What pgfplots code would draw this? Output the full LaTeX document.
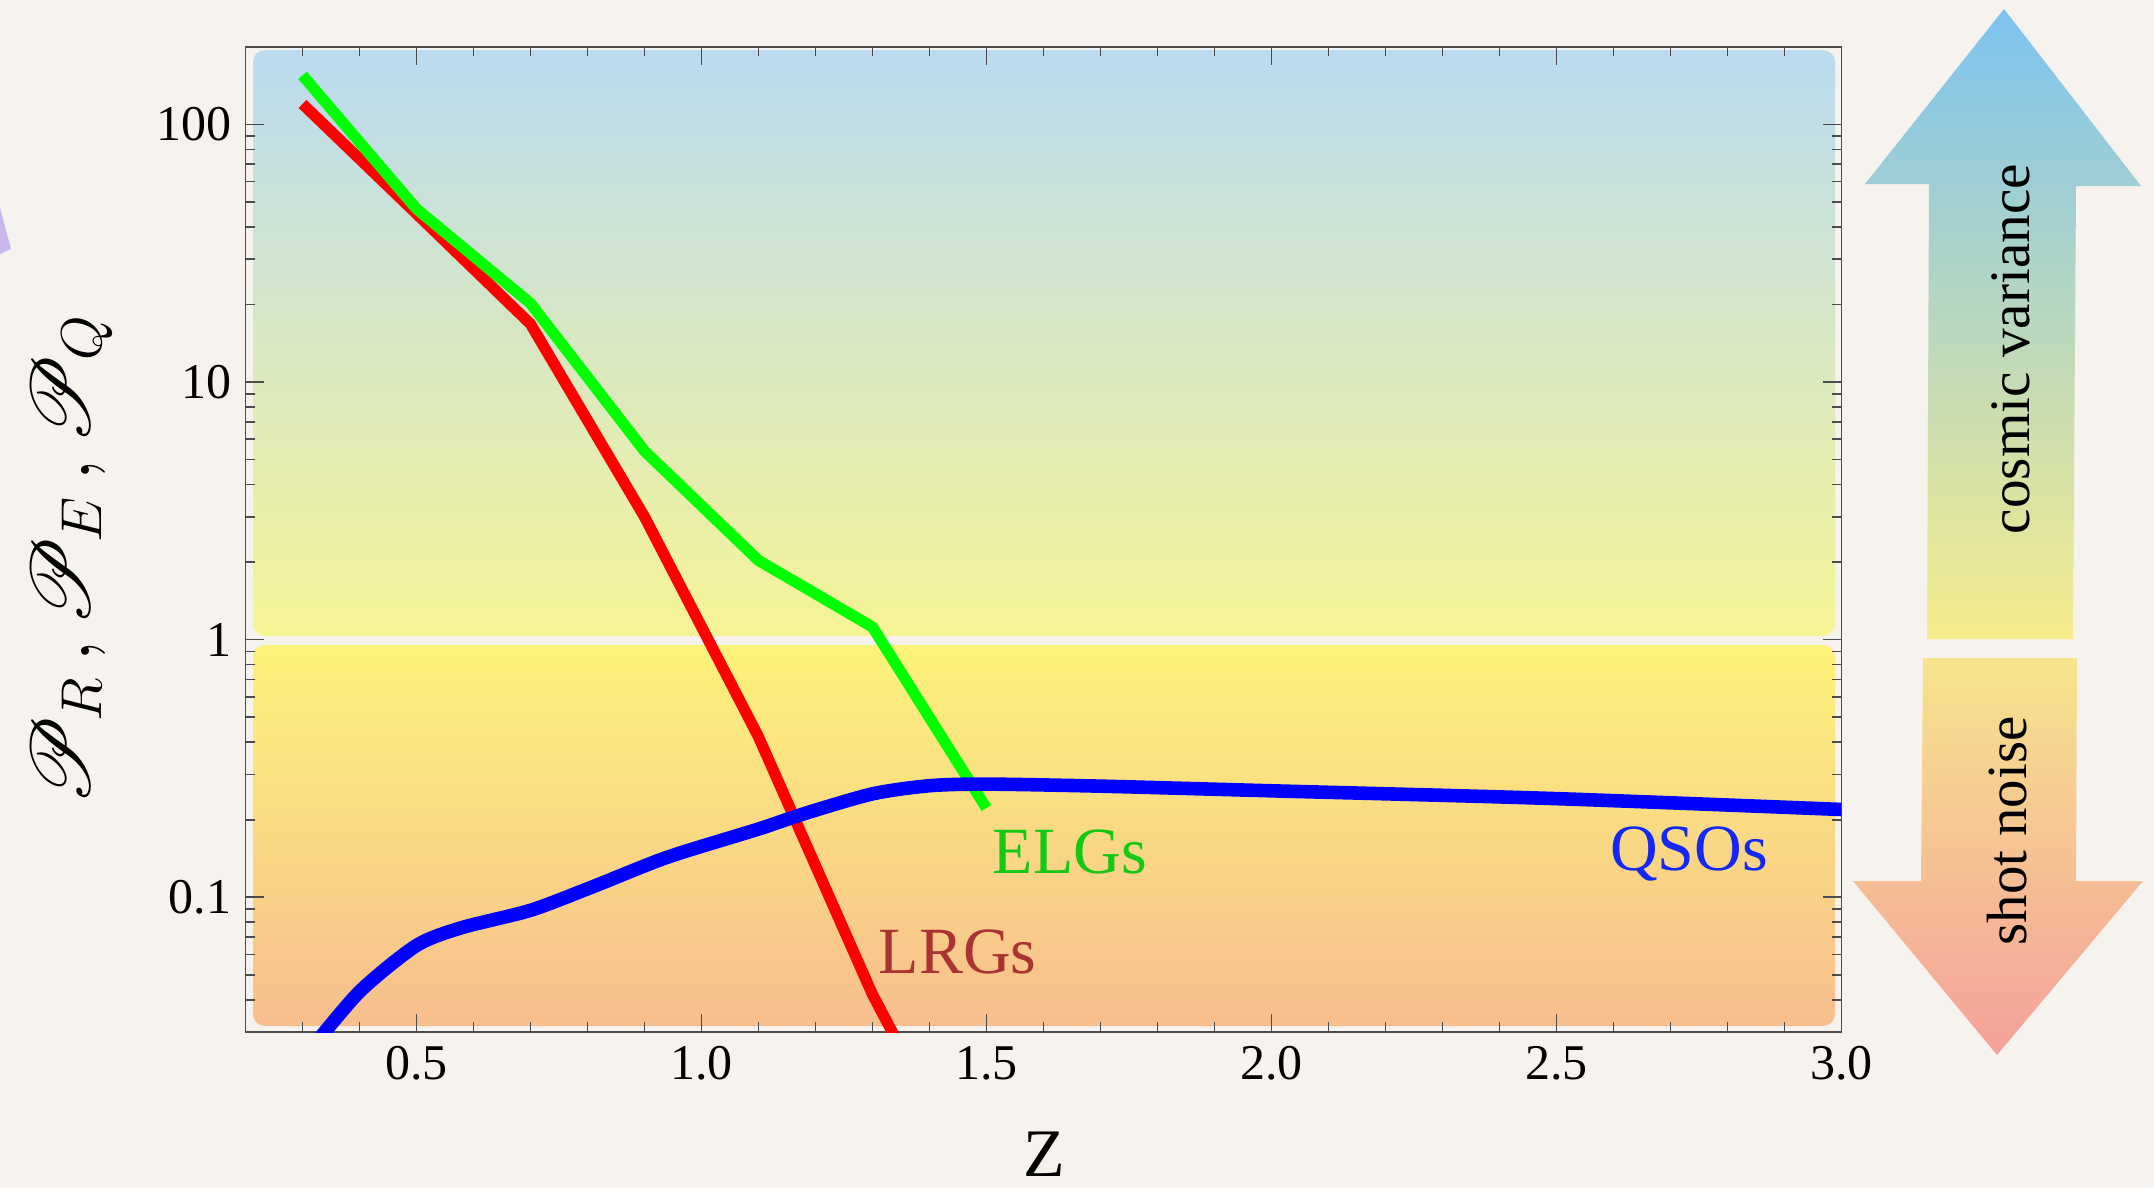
\documentclass[border=0pt]{standalone}
\usepackage{pgfplots}
\pgfplotsset{compat=1.18}
\usepackage{fontspec}
\setmainfont{Liberation Serif}
\usepackage{mathrsfs}
\definecolor{bgc}{RGB}{246,242,237}
\definecolor{upTop}{RGB}{186,219,240}
\definecolor{upMid}{RGB}{204,227,205}
\definecolor{upBot}{RGB}{246,244,150}
\definecolor{loTop}{RGB}{252,243,122}
\definecolor{loMid}{RGB}{250,214,130}
\definecolor{loBot}{RGB}{247,190,142}
\definecolor{arUpTop}{RGB}{125,195,240}
\definecolor{arUpMid}{RGB}{175,212,200}
\definecolor{arUpBot}{RGB}{246,236,140}
\definecolor{arDnTop}{RGB}{246,228,140}
\definecolor{arDnMid}{RGB}{247,196,140}
\definecolor{arDnBot}{RGB}{245,160,155}
\definecolor{elgc}{RGB}{20,200,20}
\definecolor{lrgc}{RGB}{170,50,50}
\definecolor{qsoc}{RGB}{20,40,245}
\definecolor{purp}{RGB}{200,182,236}
\begin{document}
\begin{tikzpicture}
\begin{scope}[x=0.25pt,y=-0.25pt]
  \useasboundingbox (0,0) rectangle (2154,1188);
  \fill[bgc] (0,0) rectangle (2154,1188);
  \fill[purp] (0,208) -- (11,249) -- (0,254) -- cycle;
  % background panels
  \shade[top color=upTop, middle color=upMid, bottom color=upBot, rounded corners=3pt]
     (253,50) rectangle (1835,636);
  \shade[top color=loTop, middle color=loMid, bottom color=loBot, rounded corners=3pt]
     (253,645) rectangle (1835,1026);
  % arrows
  \shade[top color=arUpTop, middle color=arUpMid, bottom color=arUpBot]
     (2004,9) -- (2141,186) -- (2076,186) -- (2073,639) -- (1927,639) -- (1929,184) -- (1865,184) -- cycle;
  \shade[top color=arDnTop, middle color=arDnMid, bottom color=arDnBot]
     (1923,658) -- (2077,658) -- (2076,881) -- (2143,881) -- (1997,1055) -- (1853,881) -- (1921,881) -- cycle;
  \node[rotate=90, font=\fontsize{14.3}{16}\selectfont] at (2011,349) {cosmic variance};
  \node[rotate=90, font=\fontsize{14.2}{16}\selectfont] at (2007,831) {shot noise};
  % axis labels
  \node[rotate=90, font=\fontsize{21.5}{24}\selectfont] at (72,560) {$\mathscr{P}_R\,,\mathscr{P}_E\,,\mathscr{P}_Q$};
  \node[font=\fontsize{17}{20}\selectfont] at (1044,1154) {Z};
\end{scope}
\begin{axis}[
  at={(61.375pt,-258pt)}, anchor=south west,
  scale only axis, width=398.95pt, height=246.3pt,
  ymode=log, xmin=0.2, xmax=3.0, ymin=0.03, ymax=200,
  axis line style={draw=black!70, line width=0.4pt},
  xtick={0.5,1,1.5,2,2.5,3},
  minor xtick={0.3,0.4,0.6,0.7,0.8,0.9,1.1,1.2,1.3,1.4,1.6,1.7,1.8,1.9,2.1,2.2,2.3,2.4,2.6,2.7,2.8,2.9},
  xticklabels={0.5,1.0,1.5,2.0,2.5,3.0},
  ytick={0.1,1,10,100},
  yticklabels={0.1,1,10,100},
  minor ytick={0.04,0.05,0.06,0.07,0.08,0.09,0.2,0.3,0.4,0.5,0.6,0.7,0.8,0.9,2,3,4,5,6,7,8,9,20,30,40,50,60,70,80,90},
  tick align=inside,
  major tick length=4.6pt, minor tick length=2.4pt,
  every tick/.style={draw=black!70, line width=0.4pt},
  tick label style={font=\fontsize{12.5}{14}\selectfont},
  /pgf/number format/assume math mode=true,
  clip=true,
]
\addplot[red, line width=2.8pt, line cap=butt] coordinates {
 (0.3,120) (0.5,45) (0.7,16.8) (0.9,3.0) (1.1,0.42) (1.3,0.042) (1.4,0.016)};
\addplot[green, line width=2.8pt, line cap=butt] coordinates {
 (0.3,155) (0.5,47) (0.7,20.2) (0.9,5.4) (1.1,2.03) (1.3,1.12) (1.5,0.222)};
\addplot[blue, line width=3.4pt, smooth, tension=0.45] coordinates {
 (0.31,0.025) (0.40,0.043) (0.50,0.065) (0.58,0.0763) (0.70,0.089)
 (0.81,0.110) (0.94,0.143) (1.10,0.184) (1.18,0.211) (1.30,0.252) (1.40,0.271)
 (1.50,0.275) (1.70,0.270) (2.0,0.259) (2.5,0.2415) (3.05,0.217)};
\node[anchor=west, inner sep=0pt, text=elgc, font=\fontsize{16.5}{18}\selectfont] at (axis cs:1.51,0.150) {ELGs};
\node[anchor=west, inner sep=0pt, text=lrgc, font=\fontsize{16.5}{18}\selectfont] at (axis cs:1.31,0.0614) {LRGs};
\node[anchor=west, inner sep=0pt, text=qsoc, font=\fontsize{16.5}{18}\selectfont] at (axis cs:2.593,0.147) {QSOs};
\end{axis}
\end{tikzpicture}
\end{document}
